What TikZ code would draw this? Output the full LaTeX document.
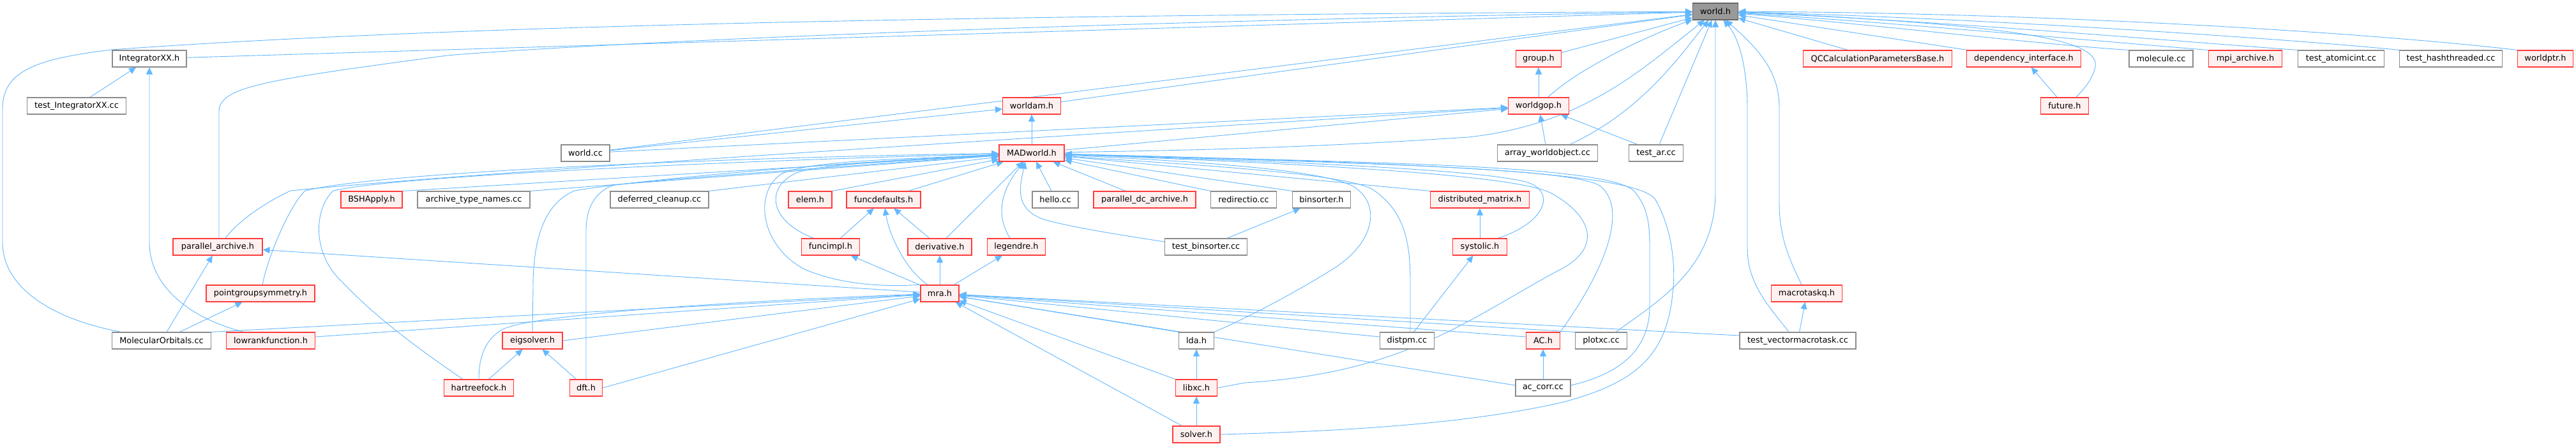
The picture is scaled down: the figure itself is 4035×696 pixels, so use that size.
\documentclass[tikz,border=0pt]{standalone}
\usepackage{fontspec}
\setmainfont{DejaVu Sans}
\usetikzlibrary{arrows.meta}
\definecolor{edgeblue}{HTML}{63B8FF}
\definecolor{redborder}{HTML}{FF3B3B}
\definecolor{pinkfill}{HTML}{FFF0F0}
\definecolor{grayborder}{HTML}{8C8C8C}
\definecolor{rootfill}{HTML}{999999}
\definecolor{rootborder}{HTML}{666666}
\pgfdeclarelayer{bg}
\pgfsetlayers{bg,main}
\begin{document}
\begin{tikzpicture}[x=1pt,y=-1pt,
 base/.style={rectangle, minimum height=26pt, inner sep=0pt, line width=1.1pt, font=\fontsize{12.9}{15}\selectfont, text=black},
 rbox/.style={base, draw=redborder, fill=pinkfill},
 gbox/.style={base, draw=grayborder, fill=white},
 root/.style={base, draw=rootborder, fill=rootfill},
 dep/.style={draw=edgeblue, line width=0.9pt, {Triangle[length=11pt,width=10pt]}-}]
\useasboundingbox (0,0) rectangle (4035,696);
% nodes
\node[root, minimum width=71pt] (worldh) at (2687,18) {world.h};
\node[gbox, minimum width=116pt] (integ) at (234,92) {IntegratorXX.h};
\node[gbox, minimum width=155pt] (testinteg) at (120,166) {test\_IntegratorXX.cc};
\node[rbox, minimum width=140pt] (parch) at (341,387) {parallel\_archive.h};
\node[rbox, minimum width=170pt] (pgs) at (408,460) {pointgroupsymmetry.h};
\node[gbox, minimum width=155pt] (molorb) at (253,534) {MolecularOrbitals.cc};
\node[rbox, minimum width=139pt] (lowrank) at (424,534) {lowrankfunction.h};
\node[rbox, minimum width=96pt] (bsh) at (582,313) {BSHApply.h};
\node[gbox, minimum width=176pt] (atn) at (742,313) {archive\_type\_names.cc};
\node[gbox, minimum width=76pt] (worldcc) at (917,240) {world.cc};
\node[gbox, minimum width=154pt] (defcl) at (1033,313) {deferred\_cleanup.cc};
\node[rbox, minimum width=68pt] (elem) at (1269,313) {elem.h};
\node[rbox, minimum width=91pt] (funcimpl) at (1301,387) {funcimpl.h};
\node[rbox, minimum width=94pt] (eigs) at (834,534) {eigsolver.h};
\node[rbox, minimum width=109pt] (hf) at (750,608) {hartreefock.h};
\node[rbox, minimum width=51pt] (dft) at (918,608) {dft.h};
\node[rbox, minimum width=91pt] (worldam) at (1616,166) {worldam.h};
\node[rbox, minimum width=102pt] (madw) at (1616,240) {MADworld.h};
\node[rbox, minimum width=116pt] (funcdef) at (1384,313) {funcdefaults.h};
\node[gbox, minimum width=72pt] (hello) at (1653,313) {hello.cc};
\node[rbox, minimum width=160pt] (pdca) at (1793,313) {parallel\_dc\_archive.h};
\node[gbox, minimum width=103pt] (redir) at (1948,313) {redirectio.cc};
\node[rbox, minimum width=100pt] (deriv) at (1472,387) {derivative.h};
\node[rbox, minimum width=91pt] (legendre) at (1592,387) {legendre.h};
\node[gbox, minimum width=129pt] (testbin) at (1889,387) {test\_binsorter.cc};
\node[rbox, minimum width=60pt] (mra) at (1472,460) {mra.h};
\node[gbox, minimum width=55pt] (lda) at (1874,534) {lda.h};
\node[rbox, minimum width=65pt] (libxc) at (1874,608) {libxc.h};
\node[rbox, minimum width=74pt] (solver) at (1874,681) {solver.h};
\node[rbox, minimum width=71pt] (group) at (2410,92) {group.h};
\node[rbox, minimum width=95pt] (worldgop) at (2410,166) {worldgop.h};
\node[gbox, minimum width=157pt] (awo) at (2424,240) {array\_worldobject.cc};
\node[gbox, minimum width=85pt] (testar) at (2594,240) {test\_ar.cc};
\node[gbox, minimum width=91pt] (binsorter) at (2070,313) {binsorter.h};
\node[rbox, minimum width=155pt] (distmat) at (2318,313) {distributed\_matrix.h};
\node[rbox, minimum width=85pt] (systolic) at (2318,387) {systolic.h};
\node[gbox, minimum width=85pt] (distpm) at (2204,534) {distpm.cc};
\node[rbox, minimum width=53pt] (ach) at (2417,534) {AC.h};
\node[gbox, minimum width=81pt] (plotxc) at (2508,534) {plotxc.cc};
\node[gbox, minimum width=86pt] (accorr) at (2417,608) {ac\_corr.cc};
\node[rbox, minimum width=233pt] (qcc) at (2941,92) {QCCalculationParametersBase.h};
\node[rbox, minimum width=179pt] (depint) at (3170,92) {dependency\_interface.h};
\node[rbox, minimum width=75pt] (future) at (3234,166) {future.h};
\node[rbox, minimum width=111pt] (macroq) at (2830,460) {macrotaskq.h};
\node[gbox, minimum width=182pt] (tvm) at (2816,534) {test\_vectormacrotask.cc};
\node[gbox, minimum width=100pt] (molcc) at (3385,92) {molecule.cc};
\node[rbox, minimum width=115pt] (mpiar) at (3517,92) {mpi\_archive.h};
\node[gbox, minimum width=135pt] (tai) at (3667,92) {test\_atomicint.cc};
\node[gbox, minimum width=161pt] (tht) at (3839,92) {test\_hashthreaded.cc};
\node[rbox, minimum width=87pt] (wptr) at (3987,92) {worldptr.h};
\begin{pgfonlayer}{bg}
\fill[white] (0,0) rectangle (4035,696);
% ---- into world.h
\draw[dep] (worldh) -- (integ);
\draw[dep] (worldh) .. controls (1500,24) and (700,40) .. (174,78) .. controls (60,92) and (4,110) .. (4,170) -- (4,380) .. controls (4,450) and (80,500) .. ([xshift=15pt]molorb.north west);
\draw[dep] (worldh) .. controls (1600,35) and (900,70) .. (700,87) .. controls (420,125) and (343,135) .. (343,175) -- ([xshift=2pt]parch.north);
\draw[dep] (worldh) -- (worldcc);
\draw[dep] (worldh) -- (worldam);
\draw[dep] (worldh) .. controls (2570,110) and (2480,195) .. (2300,215) .. controls (2000,235) and (1800,236) .. (madw);
\draw[dep] (worldh) .. controls (2570,60) and (2470,110) .. (worldgop);
\draw[dep] (worldh) -- (group);
\draw[dep] (worldh) .. controls (2630,90) and (2570,175) .. ([xshift=-44pt]awo.north east);
\draw[dep] (worldh) -- ([xshift=5pt]testar.north);
\draw[dep] (worldh.south) -- (2687,300) .. controls (2687,420) and (2600,470) .. ([xshift=-18pt]plotxc.north east);
\draw[dep] (worldh) .. controls (2725,60) and (2737,110) .. (2737,170) -- (2737,390) .. controls (2737,450) and (2780,490) .. ([xshift=-14pt]tvm.north);
\draw[dep] (worldh) .. controls (2765,85) and (2787,120) .. (2787,170) -- (2787,320) .. controls (2787,380) and (2810,420) .. ([xshift=-8pt]macroq.north);
\draw[dep] (worldh) -- (qcc);
\draw[dep] (worldh) -- (depint);
\draw[dep] (worldh.east) .. controls (3150,40) and (3290,60) .. (3282,105) .. controls (3276,130) and (3258,145) .. ([xshift=-20pt]future.north east);
\draw[dep] (worldh) .. controls (2950,40) and (3200,70) .. (molcc.north west);
\draw[dep] (worldh) .. controls (3000,38) and (3350,70) .. (mpiar.north west);
\draw[dep] (worldh) .. controls (3050,33) and (3450,68) .. (tai.north west);
\draw[dep] (worldh) .. controls (3100,28) and (3600,62) .. (tht.north west);
\draw[dep] (worldh) .. controls (3200,20) and (3700,50) .. (wptr.north west);
% ---- worldam, worldgop, group
\draw[dep] (worldam) -- (madw);
\draw[dep] (worldam) -- (worldcc);
\draw[dep] (worldgop) -- (worldcc);
\draw[dep] (worldgop) -- (madw);
\draw[dep] (worldgop) .. controls (1800,205) and (800,265) .. (455,299) .. controls (410,320) and (370,350) .. ([xshift=12pt]parch.north);
\draw[dep] (worldgop) -- ([xshift=-3pt]awo.north);
\draw[dep] (worldgop) -- ([xshift=-29pt]testar.north);
\draw[dep] (group) -- (worldgop);
% ---- into MADworld.h
\draw[dep] (madw) -- (bsh.north east);
\draw[dep] (madw) -- (atn.north east);
\draw[dep] (madw) -- (defcl.north east);
\draw[dep] (madw) -- (elem.north east);
\draw[dep] (madw) -- ([xshift=-20pt]funcdef.north east);
\draw[dep] (madw) .. controls (1200,245) and (600,268) .. (478,299) .. controls (455,320) and (420,400) .. ([xshift=3pt]pgs.north);
\draw[dep] (madw) .. controls (1200,250) and (620,275) .. (522,299) .. controls (490,330) and (490,400) .. (536,442) .. controls (600,510) and (690,570) .. ([xshift=30pt]hf.north west);
\draw[dep] (madw) .. controls (1300,255) and (1000,282) .. (900,299) .. controls (850,320) and (835,380) .. (835,450) -- (eigs.north);
\draw[dep] (madw) .. controls (1300,262) and (1050,280) .. (962,290) .. controls (930,300) and (918,330) .. (918,360) -- (dft.north);
\draw[dep] (madw) .. controls (1450,250) and (1300,255) .. (1250,270) .. controls (1200,290) and (1200,345) .. ([xshift=20pt]funcimpl.north west);
\draw[dep] (madw) .. controls (1400,250) and (1270,252) .. (1225,272) .. controls (1180,300) and (1190,385) .. (1260,422) .. controls (1330,452) and (1410,448) .. (mra.north west);
\draw[dep] (madw) -- ([xshift=10pt]deriv.north);
\draw[dep] ([xshift=-12pt]madw.south) .. controls (1575,290) and (1555,330) .. ([xshift=-10pt]legendre.north);
\draw[dep] (madw) -- ([xshift=-6pt]hello.north);
\draw[dep] (madw) -- ([xshift=-30pt]pdca.north);
\draw[dep] (madw) -- (redir.north west);
\draw[dep] ([xshift=-10pt]madw.south) .. controls (1595,300) and (1590,335) .. (1650,348) .. controls (1710,362) and (1780,372) .. ([yshift=8pt]testbin.west);
\draw[dep] (madw) -- (binsorter.north west);
\draw[dep] (madw) -- (distmat.north west);
\draw[dep] (madw) .. controls (1900,250) and (2300,262) .. (2390,285) .. controls (2440,300) and (2420,350) .. ([xshift=-15pt]systolic.north east);
\draw[dep] (madw) .. controls (1800,255) and (2100,268) .. (2150,297) .. controls (2200,330) and (2209,380) .. (2209,440) -- ([xshift=5pt]distpm.north);
\draw[dep] (madw) .. controls (1800,250) and (2080,262) .. (2124,295) .. controls (2165,325) and (2150,385) .. (2084,424) .. controls (2030,458) and (1950,500) .. (lda.north east);
\draw[dep] (madw) .. controls (2000,255) and (2380,272) .. (2432,304) .. controls (2495,340) and (2510,390) .. (2441,424) .. controls (2300,500) and (2200,585) .. (1950,600) -- (libxc.east);
\draw[dep] (madw) .. controls (2100,255) and (2450,262) .. (2504,290) .. controls (2545,318) and (2530,400) .. (ach.north east);
\draw[dep] (madw) .. controls (2150,255) and (2520,258) .. (2560,300) .. controls (2585,330) and (2584,360) .. (2584,400) -- (2584,480) .. controls (2584,560) and (2520,590) .. ([yshift=4pt]accorr.east);
\draw[dep] (madw) .. controls (2200,255) and (2565,268) .. (2593,313) .. controls (2620,360) and (2625,420) .. (2620,460) .. controls (2610,560) and (2560,600) .. (2450,630) .. controls (2300,665) and (2100,676) .. (solver.east);
% ---- into mra.h
\draw[dep] (mra) -- (molorb.north east);
\draw[dep] (mra) -- ([yshift=6pt]lowrank.east);
\draw[dep] (mra) .. controls (1200,470) and (850,490) .. (790,515) .. controls (760,530) and (750,560) .. (hf.north);
\draw[dep] (mra) -- (eigs.east);
\draw[dep] (mra) -- (dft.east);
\draw[dep] (mra) -- (lda.north west);
\draw[dep] (mra) -- (libxc.north west);
\draw[dep] (mra) -- ([xshift=15pt]solver.north west);
\draw[dep] (mra) -- ([yshift=6pt]distpm.west);
\draw[dep] (mra) -- ([yshift=6pt]ach.west);
\draw[dep] (mra) -- (plotxc.north west);
\draw[dep] (mra) -- ([yshift=8pt]tvm.west);
\draw[dep] (mra) -- ([yshift=4pt]accorr.west);
% ---- from mra.h
\draw[dep] (parch) -- (mra);
\draw[dep] (funcdef) .. controls (1393,370) and (1420,425) .. ([xshift=12pt]mra.north west);
\draw[dep] (deriv) -- (mra);
\draw[dep] (legendre) -- (mra);
\draw[dep] (funcimpl) -- (mra);
\draw[dep] (funcdef) -- (funcimpl);
\draw[dep] (funcdef) -- (deriv);
% ---- others
\draw[dep] (integ) -- (testinteg);
\draw[dep] (integ.south) -- (234,380) .. controls (234,450) and (300,500) .. ([xshift=-42pt]lowrank.north);
\draw[dep] (parch) -- (molorb);
\draw[dep] (pgs) -- (molorb);
\draw[dep] (eigs) -- (hf);
\draw[dep] (eigs) -- (dft);
\draw[dep] (lda) -- (libxc);
\draw[dep] (libxc) -- (solver);
\draw[dep] (binsorter) -- (testbin);
\draw[dep] (distmat) -- (systolic);
\draw[dep] (systolic) -- (distpm);
\draw[dep] (ach) -- (accorr);
\draw[dep] (macroq) -- (tvm);
\draw[dep] (depint) -- (future);
\end{pgfonlayer}
\end{tikzpicture}
\end{document}
